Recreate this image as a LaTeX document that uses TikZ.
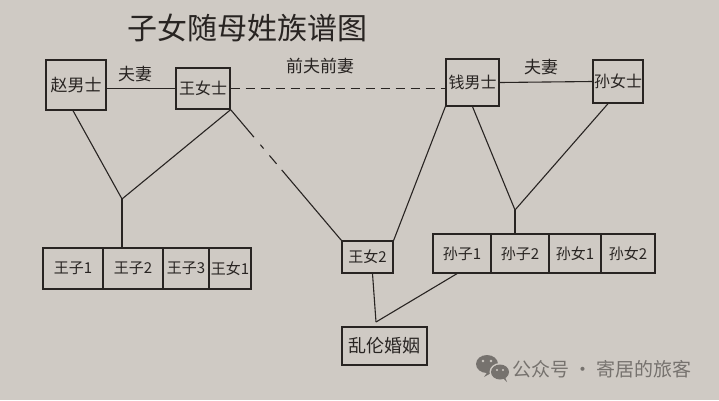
\documentclass[tikz,border=0pt]{standalone}
\usepackage{fontspec}
\newfontfamily\cjk{Noto Sans CJK SC}
\definecolor{paper}{RGB}{207,202,196}
\definecolor{ink}{RGB}{40,36,34}
\definecolor{wm}{RGB}{118,114,110}
\tikzset{
  box/.style={draw=ink, line width=1.3pt, inner sep=0pt, text=ink,
    font=\cjk\fontsize{16}{16}\selectfont},
  cell/.style={box, font=\cjk\fontsize{15}{15}\selectfont},
  link/.style={draw=ink, line width=1.1pt},
  lab/.style={text=ink, inner sep=0pt, font=\cjk\fontsize{17}{17}\selectfont}
}
\begin{document}
\begin{tikzpicture}[x=1pt,y=-1pt]
\fill[paper] (0,0) rectangle (719,400);
\useasboundingbox (0,0) rectangle (719,400);

% title
\node[text=ink, inner sep=0pt, font=\cjk\fontsize{30}{30}\selectfont] (title) at (247,28) {子女随母姓族谱图};

% parents
\node[box, minimum width=60, minimum height=50, font=\cjk\fontsize{17}{17}\selectfont] (zhao) at (76,85) {赵男士};
\node[box, minimum width=54, minimum height=41] (wang) at (203,88.5) {王女士};
\node[box, minimum width=53, minimum height=47] (qian) at (472.5,82.5) {钱男士};
\node[box, minimum width=50, minimum height=43] (sun) at (618,81.5) {孙女士};

% children of Zhao & Wang
\node[cell, minimum width=60, minimum height=41] (wz1) at (73,268.5) {王子1};
\node[cell, minimum width=60, minimum height=41] (wz2) at (133,268.5) {王子2};
\node[cell, minimum width=46, minimum height=41] (wz3) at (186,268.5) {王子3};
\node[cell, minimum width=42, minimum height=41] (wn1) at (230,268.5) {王女1};

% child of Wang & Qian
\node[cell, minimum width=51, minimum height=32] (wn2) at (367.5,257) {王女2};

% children of Qian & Sun
\node[cell, minimum width=58, minimum height=39] (sz1) at (462,253.5) {孙子1};
\node[cell, minimum width=58, minimum height=39] (sz2) at (520,253.5) {孙子2};
\node[cell, minimum width=52, minimum height=39] (sn1) at (575,253.5) {孙女1};
\node[cell, minimum width=54, minimum height=39] (sn2) at (628,253.5) {孙女2};

% result
\node[box, minimum width=85, minimum height=38, font=\cjk\fontsize{18}{18}\selectfont] (luan) at (384.5,346) {乱伦婚姻};

% marriage lines
\draw[link] (zhao.east |- wang.west) -- (wang.west);
\node[lab] (l1) at (135,74) {夫妻};
\draw[link, dash pattern=on 9pt off 6pt] (wang.east) -- (wang.east -| qian.west);
\node[lab] (l2) at (320,66) {前夫前妻};
\draw[link] (qian.east) -- (sun.west);
\node[lab] (l3) at (541,67) {夫妻};

% descent lines
\coordinate (j1) at (122,199);
\draw[link] ([xshift=-3pt]zhao.south) -- (j1);
\draw[link] (wang.south east) -- (j1);
\draw[link] (j1) -- (j1 |- wz2.north);

\draw[link, dash pattern=on 36pt off 10pt on 5pt off 9pt on 11pt off 8pt on 200pt] (wang.south east) -- (wn2.north west);
\draw[link] (qian.south west) -- (wn2.north east);

\coordinate (j2) at (515,210);
\draw[link] (qian.south) -- (j2);
\draw[link] ([xshift=-10pt]sun.south) -- (j2);
\draw[link] (j2) -- (j2 |- sz2.north);

\coordinate (j3) at (376,322);
\draw[link] ([xshift=5pt]wn2.south) -- (j3);
\draw[link] ([xshift=-5pt]sz1.south) -- (j3);

% watermark
\begin{scope}
\fill[wm] (487,364) ellipse (11 and 9);
\fill[wm] (488,371) -- (484,377) -- (493,372) -- cycle;
\fill[paper] (500,372) ellipse (10.5 and 9);
\fill[wm] (500,372) ellipse (9 and 7.5);
\fill[wm] (503,378) -- (507,382) -- (505,377) -- cycle;
\fill[paper] (483,361) circle (1.4) (491,361) circle (1.4) (497,370) circle (1.2) (503,370) circle (1.2);
\end{scope}
\node[text=wm, inner sep=0pt, anchor=west, font=\cjk\fontsize{19}{19}\selectfont] (wmtext) at (512,369) {公众号 · 寄居的旅客};
\end{tikzpicture}
\end{document}
